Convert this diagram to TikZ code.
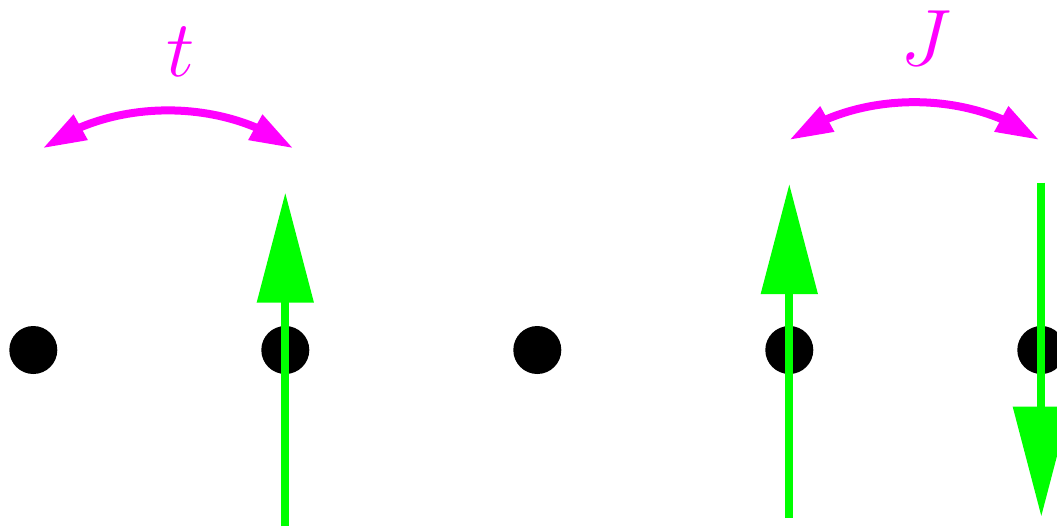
\RequirePackage{fix-cm}
\documentclass[tikz,border=0pt]{standalone}
\usepackage{tikz}
\usetikzlibrary{positioning}
\usetikzlibrary{arrows.meta}
\usetikzlibrary{bending}
\definecolor{spingreen}{rgb}{0,1,0}
\definecolor{hopmagenta}{rgb}{1,0,1}
\tikzset{
lattice_site/.style={circle, fill=black, inner sep=0pt, minimum size=24pt},
spin_arrow/.style={draw=spingreen, line width=4pt, -{Triangle[length=55pt, width=27.5pt]}},
hop_arc/.style={draw=hopmagenta, line width=4pt, {Triangle[length=21.75pt, width=13.5pt]}-{Triangle[length=21.75pt, width=13.5pt]}},
coupling/.style={text=hopmagenta, inner sep=0pt, font=\fontsize{40}{40}\selectfont}
}

\begin{document}
\begin{tikzpicture}[x=0.5pt, y=-0.5pt, on grid]
    \useasboundingbox (0,0) rectangle (1057,526);
    \node[lattice_site] (site_1) at (33.3,350) {};
    \node[lattice_site] (site_2) [right=126pt of site_1] {};
    \node[lattice_site] (site_3) [right=126pt of site_2] {};
    \node[lattice_site] (site_4) [right=126pt of site_3] {};
    \node[lattice_site] (site_5) [right=126pt of site_4] {};
    \coordinate[below=88pt of site_2] (up_1_tail);
    \coordinate[above=78.7pt of site_2] (up_1_tip);
    \coordinate[below=84pt of site_4] (up_2_tail);
    \coordinate[above=83pt of site_4] (up_2_tip);
    \coordinate[above=83.7pt of site_5] (down_tail);
    \coordinate[below=83.3pt of site_5] (down_tip);
    \draw[spin_arrow] (up_1_tail) -- (up_1_tip);
    \draw[spin_arrow] (up_2_tail) -- (up_2_tip);
    \draw[spin_arrow] (down_tail) -- (down_tip);
    \coordinate (hop_t_left) at (42.7,148.3);
    \coordinate (hop_t_right) at (293.3,148.3);
    \coordinate (hop_J_left) at (789.3,140);
    \coordinate (hop_J_right) at (1039.3,140);
    \draw[hop_arc] (hop_t_left) to[bend left=36, looseness=0.88] (hop_t_right);
    \draw[hop_arc] (hop_J_left) to[bend left=36, looseness=0.88] (hop_J_right);
    \node[coupling] (label_t) at (181,52) {$t$};
    \node[coupling] (label_J) at (926,38.5) {$J$};
\end{tikzpicture}
\end{document}
